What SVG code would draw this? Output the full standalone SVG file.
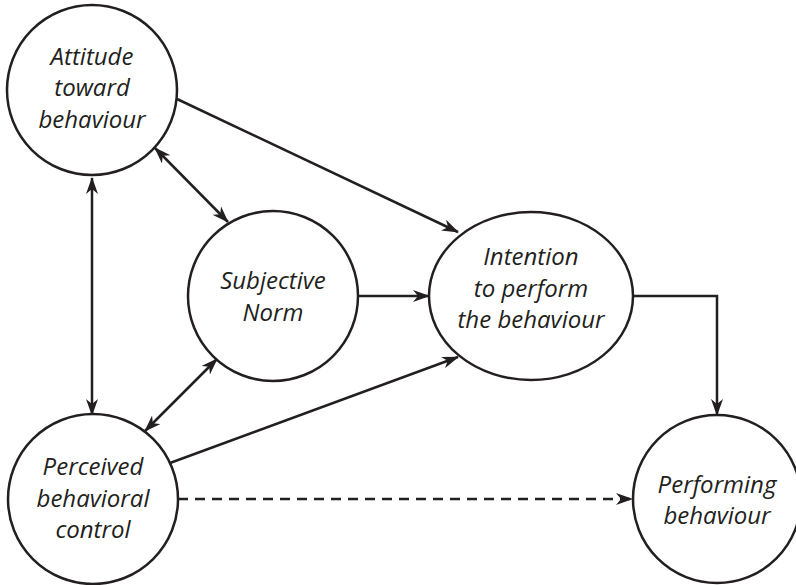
<svg xmlns="http://www.w3.org/2000/svg" width="796" height="585" viewBox="0 0 796 585">
<style>
.node{fill:#fff;stroke:#231f20;stroke-width:2.5}
.lbl{font-family:"Open Sans","Noto Sans",sans-serif;font-style:italic;font-size:24px;fill:#231f20;text-anchor:middle}
.edge{fill:none;stroke:#231f20;stroke-width:2.5}
.dash{stroke-dasharray:10 7}
</style>
<defs>
<marker id="ah" viewBox="0 0 17 12" refX="16" refY="6" markerWidth="17" markerHeight="12" markerUnits="userSpaceOnUse" orient="auto-start-reverse">
<path d="M0,0 L17,6 L0,12 L5,6 Z" fill="#231f20"/>
</marker>
</defs>
<rect width="796" height="585" fill="#fff"/>
<g id="connectors">
<line class="edge" x1="92" y1="178" x2="92" y2="415" marker-start="url(#ah)" marker-end="url(#ah)"/>
<line class="edge" x1="155" y1="148" x2="228" y2="222" marker-start="url(#ah)" marker-end="url(#ah)"/>
<line class="edge" x1="217" y1="359" x2="145" y2="431" marker-start="url(#ah)" marker-end="url(#ah)"/>
<line class="edge" x1="177" y1="99" x2="458" y2="232" marker-end="url(#ah)"/>
<line class="edge" x1="358" y1="296" x2="429" y2="296" marker-end="url(#ah)"/>
<line class="edge" x1="170" y1="463" x2="458" y2="357" marker-end="url(#ah)"/>
<polyline class="edge" points="633,296 717,296 717,415" marker-end="url(#ah)"/>
<line class="edge dash" x1="178" y1="499" x2="632" y2="499" marker-end="url(#ah)"/>
</g>
<g id="attitude">
<circle class="node" cx="92" cy="90" r="85"/>
<text class="lbl" x="92" y="65">Attitude</text>
<text class="lbl" x="92" y="96">toward</text>
<text class="lbl" x="92" y="128">behaviour</text>
</g>
<g id="norm">
<circle class="node" cx="273" cy="296" r="85"/>
<text class="lbl" x="273" y="289">Subjective</text>
<text class="lbl" x="273" y="321">Norm</text>
</g>
<g id="intention">
<ellipse class="node" cx="531" cy="296" rx="102" ry="84"/>
<text class="lbl" x="531" y="265">Intention</text>
<text class="lbl" x="531" y="297">to perform</text>
<text class="lbl" x="531" y="328">the behaviour</text>
</g>
<g id="control">
<circle class="node" cx="93" cy="499" r="85"/>
<text class="lbl" x="93" y="475">Perceived</text>
<text class="lbl" x="93" y="507">behavioral</text>
<text class="lbl" x="93" y="538">control</text>
</g>
<g id="performing">
<circle class="node" cx="717" cy="499" r="84"/>
<text class="lbl" x="717" y="493">Performing</text>
<text class="lbl" x="717" y="524">behaviour</text>
</g>
</svg>
